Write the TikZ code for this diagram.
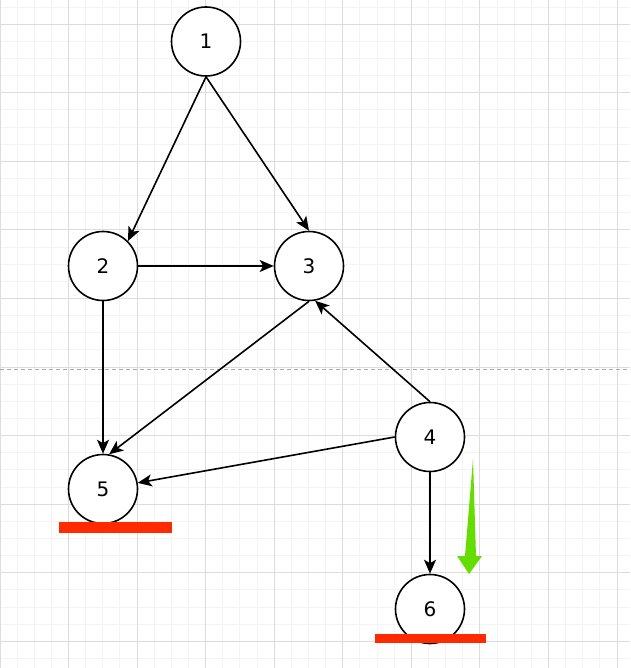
\documentclass[tikz,border=0pt]{standalone}
\usepackage{fontspec}
\setmainfont{DejaVu Sans}
\usetikzlibrary{arrows.meta}
\definecolor{gridminor}{HTML}{F4F4F4}
\definecolor{gridmajor}{HTML}{DCDCDC}
\definecolor{pagebreak}{HTML}{ABABAB}
\definecolor{markred}{HTML}{FF2A00}
\definecolor{markgreen}{HTML}{66DD00}
\begin{document}
\begin{tikzpicture}[x=1pt, y=-1pt,
    vertex/.style={circle, draw, line width=1.6pt, fill=white, minimum size=69pt, inner sep=0pt, font=\fontsize{20}{23}\selectfont},
    edge/.style={-{Stealth[length=14pt, width=12pt, inset=3.5pt]}, line width=1.6pt}]
    \useasboundingbox (0,0) rectangle (630,668);
    \fill[white] (0,0) rectangle (630,668);
    % grid
    \foreach \i in {0,...,36} {
        \draw[gridminor, line width=1pt] ({\i*17.14},0) -- ({\i*17.14},668);
    }
    \foreach \j in {-1,...,37} {
        \draw[gridminor, line width=1pt] (0,{24.3+\j*17.14}) -- (630,{24.3+\j*17.14});
    }
    \foreach \k in {0,...,9} {
        \draw[gridmajor, line width=1pt] ({\k*68.56},0) -- ({\k*68.56},668);
        \draw[gridmajor, line width=1pt] (0,{24.3+\k*68.56}) -- (630,{24.3+\k*68.56});
    }
    \draw[pagebreak, dash pattern=on 4pt off 3pt, line width=1pt] (0,369) -- (630,369);
    % vertices
    \node[vertex] (n1) at (206,41.5) {1};
    \node[vertex] (n2) at (103,266) {2};
    \node[vertex] (n3) at (309,266) {3};
    \node[vertex] (n4) at (430,437) {4};
    \node[vertex] (n5) at (103,489) {5};
    \node[vertex] (n6) at (430,609) {6};
    % edges
    \draw[edge] (n1.south) -- (n2.45);
    \draw[edge] (n1.south) -- (n3.north);
    \draw[edge] (n2) -- (n3);
    \draw[edge] (n2) -- (n5);
    \draw[edge] (n3.south) -- (n5.80);
    \draw[edge] (n4.north) -- (n3.-80);
    \draw[edge] (n4.west) -- (n5.10);
    \draw[edge] (n4) -- (n6);
    % marks
    \fill[markred] (59,522) rectangle (172,533);
    \fill[markred] (375,634) rectangle (486,643);
    \fill[markgreen] (473,459) -- (476,556) -- (482,556) -- (469,574) -- (457,556) -- (465,556) -- cycle;
\end{tikzpicture}
\end{document}
